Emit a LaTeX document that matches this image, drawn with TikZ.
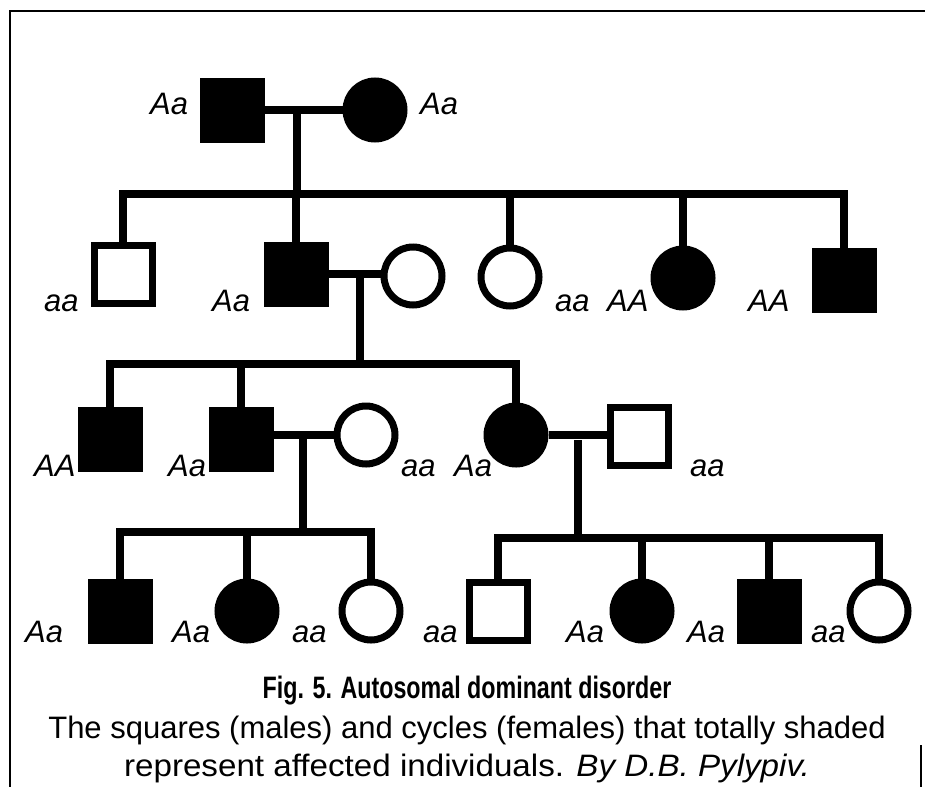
\documentclass[tikz,border=0pt]{standalone}
\usepackage{fontspec}
\usepackage{graphicx}
\setmainfont{Liberation Sans}
\newcommand\genofont{\fontsize{31}{37}\selectfont\itshape}
\newcommand\capfont{\fontsize{31}{38}\selectfont}
\tikzset{
  person/.style={draw=black, line width=7pt, minimum size=58pt, inner sep=0pt},
  male/.style={person, rectangle},
  female/.style={person, circle},
  aff/.style={fill=black},
  unaff/.style={fill=white},
  link/.style={line width=8pt, line join=miter, line cap=butt},
  geno/.style={font=\genofont, inner sep=0pt, anchor=base west},
  frameline/.style={line width=2.5pt, line join=miter},
  capline/.style={anchor=base, inner sep=0pt, font=\capfont},
}
\begin{document}
\begin{tikzpicture}[x=1pt, y=-1pt]
\useasboundingbox (0,0) rectangle (925,787);

% frame
\draw[frameline] (925,11) -- (10,11) -- (10,787);
\draw[frameline] (921,745) -- (921,787);

% generation I
\node[male,aff]     (I1) at (232,110) {};
\node[female,aff]   (I2) at (375,110) {};
% generation II
\node[male,unaff]   (II1) at (123,274) {};
\node[male,aff]     (II2) at (296,274) {};
\node[female,unaff] (II3) at (413,276) {};
\node[female,unaff] (II4) at (510,277) {};
\node[female,aff]   (II5) at (683,278) {};
\node[male,aff]     (II6) at (844,280) {};
% generation III
\node[male,aff]     (III1) at (110,439) {};
\node[male,aff]     (III2) at (241,439) {};
\node[female,unaff] (III3) at (366,435) {};
\node[female,aff]   (III4) at (516,435) {};
\node[male,unaff]   (III5) at (639,436) {};
% generation IV
\node[male,aff]     (IV1) at (120,611) {};
\node[female,aff]   (IV2) at (247,611) {};
\node[female,unaff] (IV3) at (371,611) {};
\node[male,unaff]   (IV4) at (498,611) {};
\node[female,aff]   (IV5) at (642,611) {};
\node[male,aff]     (IV6) at (769,611) {};
\node[female,unaff] (IV7) at (879,611) {};

% couple I1 x I2 and their children
\coordinate (m1) at (297,110);
\coordinate (s1) at (297,194);
\draw[link] (I1.east) -- (I2.west);
\draw[link] (m1) -- (s1);
\draw[link] (II1.north) |- (s1) -| (II6.north);
\draw[link] (II2.north) -- (II2.north |- s1);
\draw[link] (II4.north) -- (II4.north |- s1);
\draw[link] (II5.north) -- (II5.north |- s1);

% couple II2 x II3 and their children
\coordinate (m2) at (360,274);
\coordinate (s2) at (360,364);
\draw[link] (II2.east) -- (II2.east -| II3.west);
\draw[link] (m2) -- (s2);
\draw[link] (III1.north) |- (s2) -| (III4.north);
\draw[link] (III2.north) -- (III2.north |- s2);

% couple III2 x III3 and their children
\coordinate (m3) at (303,435);
\coordinate (s3) at (303,532);
\draw[link] (III3.west) -- (III3.west -| III2.east);
\draw[link] (m3) -- (s3);
\draw[link] (IV1.north) |- (s3) -| (IV3.north);
\draw[link] (IV2.north) -- (IV2.north |- s3);

% couple III4 x III5 and their children
\coordinate (m4) at (578,440);
\coordinate (s4) at (578,538);
\draw[link] (III4.east) -- (III4.east -| III5.west);
\draw[link] (m4) -- (s4);
\draw[link] (IV4.north) |- (s4) -| (IV7.north);
\draw[link] (IV5.north) -- (IV5.north |- s4);
\draw[link] (IV6.north) -- (IV6.north |- s4);

% genotypes
\node[geno] (gI1) at (150,114) {Aa};
\node[geno] (gI2) at (420,114) {Aa};

\node[geno] (gII1) at (44,311) {aa};
\node[geno] (gII2) at (212,311) {Aa};
\node[geno] (gII4) at (555,311) {aa};
\node[geno] (gII5) at (607,311) {AA};
\node[geno] (gII6) at (748,311) {AA};

\node[geno] (gIII1) at (34,476) {AA};
\node[geno] (gIII2) at (168,476) {Aa};
\node[geno] (gIII3) at (401,476) {aa};
\node[geno] (gIII4) at (454,476) {Aa};
\node[geno] (gIII5) at (690,476) {aa};

\node[geno] (gIV1) at (25,642) {Aa};
\node[geno] (gIV2) at (172,642) {Aa};
\node[geno] (gIV3) at (292,642) {aa};
\node[geno] (gIV4) at (423,642) {aa};
\node[geno] (gIV5) at (566,642) {Aa};
\node[geno] (gIV6) at (687,642) {Aa};
\node[geno] (gIV7) at (811,642) {aa};

% caption
\node[capline] (title) at (467,698) {\scalebox{0.75}[1]{\bfseries Fig. 5. Autosomal dominant disorder}};
\node[capline] (cap1) at (467,738) {The squares (males) and cycles (females) that totally shaded};
\node[capline] (cap2) at (467,776) {\scalebox{1.07}[1]{represent affected individuals. \textit{By D.B. Pylypiv.}}};
\end{tikzpicture}
\end{document}
